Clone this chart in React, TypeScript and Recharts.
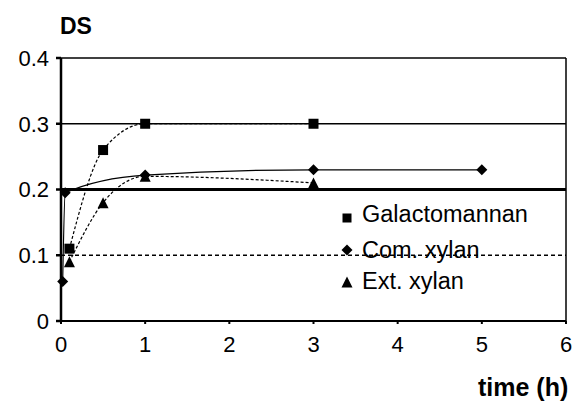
import React from 'react';
import { LineChart, Line, XAxis, YAxis, ReferenceLine, Legend } from 'recharts';

// sampling times (h) and DS values
const galTime = [0.1, 0.5, 1, 3];
const galDS = [0.11, 0.26, 0.3, 0.3];
const comTime = [0.02, 0.05, 1, 3, 5];
const comDS = [0.06, 0.195, 0.222, 0.23, 0.23];
const extTime = [0.1, 0.5, 1, 3];
const extDS = [0.09, 0.18, 0.22, 0.21];

const xTicks = [0, 1, 2, 3, 4, 5, 6];
const yTicks = [0, 0.1, 0.2, 0.3, 0.4];

const seriesNames = ['Galactomannan', 'Com. xylan', 'Ext. xylan'];

const zip = (t: number[], v: number[]) => t.map((time, i) => ({ time, ds: v[i] }));

const galData = zip(galTime, galDS);
const comData = zip(comTime, comDS);
const extData = zip(extTime, extDS);

const FONT = '"Liberation Sans", Arial, sans-serif';

const Square = ({ cx, cy, size = 10 }: any) =>
    <rect x={cx - size / 2} y={cy - size / 2} width={size} height={size} fill="#000" />;

const Diamond = ({ cx, cy, size = 11 }: any) => {
    const h = size / 2;
    return <polygon points={`${cx},${cy - h} ${cx + h},${cy} ${cx},${cy + h} ${cx - h},${cy}`} fill="#000" />;
};

const Triangle = ({ cx, cy, size = 11 }: any) => {
    const h = size / 2;
    return <polygon points={`${cx},${cy - h} ${cx + h},${cy + h} ${cx - h},${cy + h}`} fill="#000" />;
};

const markers = [Square, Diamond, Triangle];
const markerOffset = [4, 0, 1];
const rowHeights = [40, 31, 32];

function LegendBox() {
    return (
        <div style={{ fontFamily: FONT, fontSize: 23.5, color: '#000', lineHeight: '32px' }}>
            {seriesNames.map((name, i) => {
                const M = markers[i];
                return (
                    <div key={name} style={{ display: 'flex', alignItems: 'center', height: rowHeights[i] }}>
                        <svg width={14} height={20} style={{ marginRight: 7 }}>
                            <M cx={6} cy={10 + markerOffset[i]} size={i === 0 ? 9 : 11} />
                        </svg>
                        <span>{name}</span>
                    </div>
                );
            })}
        </div>
    );
}

export default function App() {
    return (
        <div style={{ position: 'absolute', left: 0, top: 0, width: 574, height: 403, background: '#fff' }}>
            <div style={{ position: 'absolute', left: 60, top: 14, fontFamily: FONT, fontWeight: 'bold', fontSize: 23, lineHeight: '24px' }}>DS</div>
            <div style={{ position: 'absolute', left: 478, top: 375, fontFamily: FONT, fontWeight: 'bold', fontSize: 25, lineHeight: '25px' }}>time (h)</div>
            <LineChart width={574} height={403} margin={{ top: 58, right: 8, left: 0, bottom: 0 }}>
                <XAxis
                    type="number"
                    dataKey="time"
                    domain={[0, 6]}
                    ticks={xTicks}
                    height={82}
                    stroke="#000"
                    strokeWidth={2}
                    tickSize={3}
                    tickMargin={12}
                    tick={{ fill: '#000', fontSize: 22, fontFamily: FONT }}
                    allowDuplicatedCategory={false}
                />
                <YAxis
                    type="number"
                    domain={[0, 0.4]}
                    ticks={yTicks}
                    width={61}
                    stroke="#000"
                    strokeWidth={2.5}
                    tickSize={5}
                    tickMargin={7}
                    tickFormatter={(v: number) => (v === 0 ? '0' : v.toFixed(1))}
                    tick={{ fill: '#000', fontSize: 22, fontFamily: FONT }}
                />
                <ReferenceLine y={0.4} stroke="#000" strokeWidth={1.5} />
                <ReferenceLine y={0.3} stroke="#000" strokeWidth={1.5} />
                <ReferenceLine y={0.2} stroke="#000" strokeWidth={3} />
                <ReferenceLine y={0.1} stroke="#000" strokeWidth={1.5} strokeDasharray="4 3" />
                <ReferenceLine x={6} stroke="#000" strokeWidth={1.5} />
                <Line
                    data={galData}
                    dataKey="ds"
                    name={seriesNames[0]}
                    type="monotone"
                    stroke="#000"
                    strokeWidth={1.2}
                    strokeDasharray="3 2"
                    dot={<Square />}
                    isAnimationActive={false}
                />
                <Line
                    data={comData}
                    dataKey="ds"
                    name={seriesNames[1]}
                    type="monotone"
                    stroke="#000"
                    strokeWidth={1.2}
                    dot={<Diamond />}
                    isAnimationActive={false}
                />
                <Line
                    data={extData}
                    dataKey="ds"
                    name={seriesNames[2]}
                    type="monotone"
                    stroke="#000"
                    strokeWidth={1.2}
                    strokeDasharray="3 2"
                    dot={<Triangle />}
                    isAnimationActive={false}
                />
                <Legend
                    layout="vertical"
                    align="center"
                    verticalAlign="middle"
                    content={<LegendBox />}
                    wrapperStyle={{ position: 'absolute', left: 341, top: 194, width: 'auto' }}
                />
            </LineChart>
        </div>
    );
}
